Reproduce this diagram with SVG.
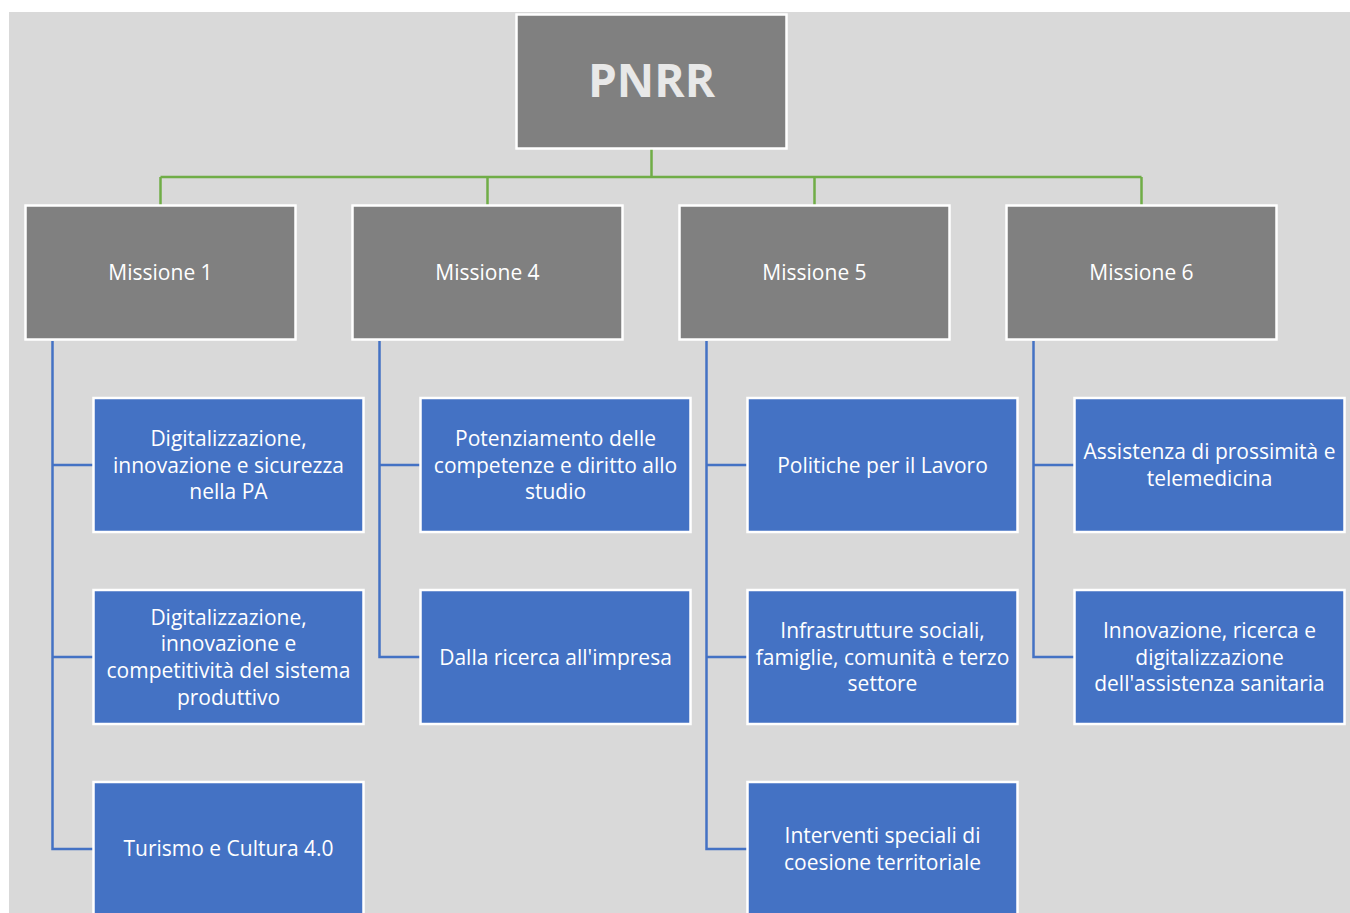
<svg xmlns="http://www.w3.org/2000/svg" width="1350" height="913" viewBox="0 0 1350 913">
<style>
.bg{fill:#D9D9D9}
.top{fill:#808080;stroke:#FFFFFF;stroke-width:2.5}
.child{fill:#4472C4;stroke:#FFFFFF;stroke-width:2.5}
.t{font-family:"Open Sans","Noto Sans","Liberation Sans",sans-serif;font-size:21px;fill:#FFFFFF;text-anchor:middle}
.big{font-family:"Open Sans","Noto Sans","Liberation Sans",sans-serif;font-size:46px;font-weight:bold;fill:#E8E8E8;text-anchor:middle}
.g{fill:none;stroke:#70AD47;stroke-width:2.5}
.b{fill:none;stroke:#4472C4;stroke-width:2.5}
</style>
<rect x="0" y="0" width="1350" height="913" fill="#FFFFFF"/>
<rect class="bg" x="9" y="12" width="1341" height="901"/>
<g id="connectors">
<path class="g" d="M651.5,149 V177 M160.5,177 H1141.5 M160.5,177 V205 M487.5,177 V205 M814.5,177 V205 M1141.5,177 V205"/>
<path class="b" d="M52.5,341 V849 H93 M52.5,465 H93 M52.5,657 H93"/>
<path class="b" d="M379.5,341 V657 H420 M379.5,465 H420"/>
<path class="b" d="M706.5,341 V849 H747 M706.5,465 H747 M706.5,657 H747"/>
<path class="b" d="M1033.5,341 V657 H1074 M1033.5,465 H1074"/>
</g>
<g id="pnrr"><rect class="top" x="516.5" y="14.5" width="270" height="134"/><text class="big" x="651.5" y="97">PNRR</text></g>
<g id="m1"><rect class="top" x="25.5" y="205.5" width="270" height="134"/><text class="t" x="160.5" y="280">Missione 1</text></g>
<g id="m4"><rect class="top" x="352.5" y="205.5" width="270" height="134"/><text class="t" x="487.5" y="280">Missione 4</text></g>
<g id="m5"><rect class="top" x="679.5" y="205.5" width="270" height="134"/><text class="t" x="814.5" y="280">Missione 5</text></g>
<g id="m6"><rect class="top" x="1006.5" y="205.5" width="270" height="134"/><text class="t" x="1141.5" y="280">Missione 6</text></g>

<g id="m1c1"><rect class="child" x="93.5" y="398" width="270" height="134"/><text class="t" x="228.5"><tspan x="228.5" y="445.8">Digitalizzazione,</tspan><tspan x="228.5" y="472.5">innovazione e sicurezza</tspan><tspan x="228.5" y="499.2">nella PA</tspan></text></g>
<g id="m1c2"><rect class="child" x="93.5" y="590" width="270" height="134"/><text class="t" x="228.5"><tspan x="228.5" y="624.5">Digitalizzazione,</tspan><tspan x="228.5" y="651.2">innovazione e</tspan><tspan x="228.5" y="677.8">competitività del sistema</tspan><tspan x="228.5" y="704.5">produttivo</tspan></text></g>
<g id="m1c3"><rect class="child" x="93.5" y="782" width="270" height="134"/><text class="t" x="228.5" y="855.5">Turismo e Cultura 4.0</text></g>

<g id="m4c1"><rect class="child" x="420.5" y="398" width="270" height="134"/><text class="t" x="555.5"><tspan x="555.5" y="445.8">Potenziamento delle</tspan><tspan x="555.5" y="472.5">competenze e diritto allo</tspan><tspan x="555.5" y="499.2">studio</tspan></text></g>
<g id="m4c2"><rect class="child" x="420.5" y="590" width="270" height="134"/><text class="t" x="555.5" y="664.5">Dalla ricerca all'impresa</text></g>

<g id="m5c1"><rect class="child" x="747.5" y="398" width="270" height="134"/><text class="t" x="882.5" y="472.5">Politiche per il Lavoro</text></g>
<g id="m5c2"><rect class="child" x="747.5" y="590" width="270" height="134"/><text class="t" x="882.5"><tspan x="882.5" y="637.8">Infrastrutture sociali,</tspan><tspan x="882.5" y="664.5">famiglie, comunità e terzo</tspan><tspan x="882.5" y="691.2">settore</tspan></text></g>
<g id="m5c3"><rect class="child" x="747.5" y="782" width="270" height="134"/><text class="t" x="882.5"><tspan x="882.5" y="843">Interventi speciali di</tspan><tspan x="882.5" y="869.5">coesione territoriale</tspan></text></g>

<g id="m6c1"><rect class="child" x="1074.5" y="398" width="270" height="134"/><text class="t" x="1209.5"><tspan x="1209.5" y="459.2">Assistenza di prossimità e</tspan><tspan x="1209.5" y="485.8">telemedicina</tspan></text></g>
<g id="m6c2"><rect class="child" x="1074.5" y="590" width="270" height="134"/><text class="t" x="1209.5"><tspan x="1209.5" y="637.8">Innovazione, ricerca e</tspan><tspan x="1209.5" y="664.5">digitalizzazione</tspan><tspan x="1209.5" y="691.2">dell'assistenza sanitaria</tspan></text></g>
</svg>
